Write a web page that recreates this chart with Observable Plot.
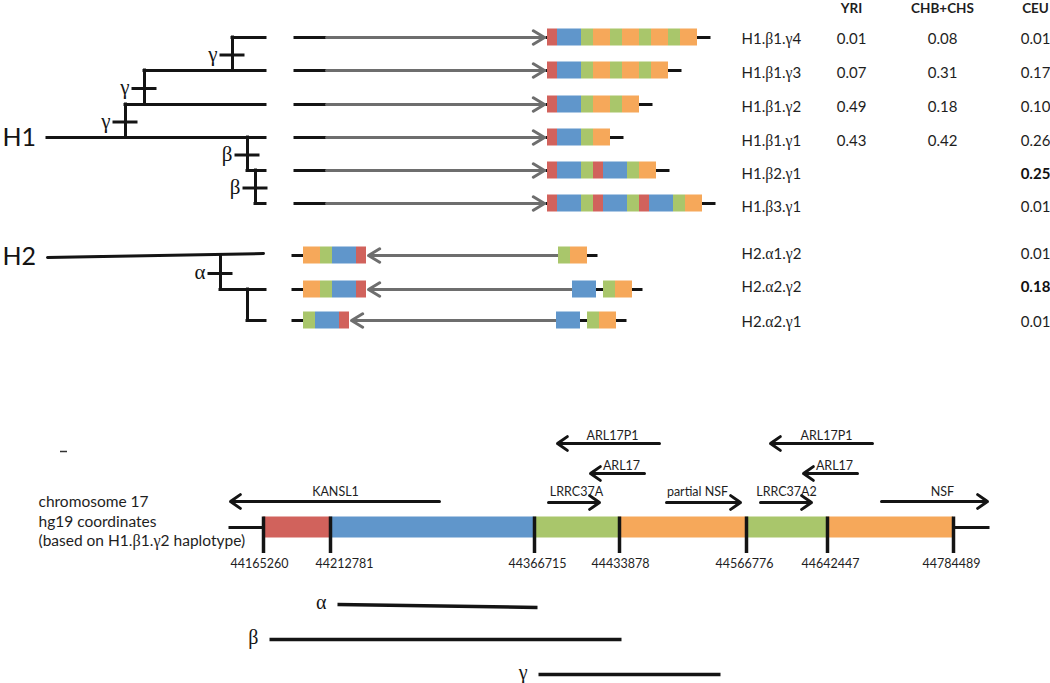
<!DOCTYPE html>
<html><head><meta charset="utf-8">
<script src="https://cdn.jsdelivr.net/npm/d3@7"></script>
<script src="https://cdn.jsdelivr.net/npm/@observablehq/plot@0.6"></script>
<style>body{margin:0;background:#fff}#chart svg{display:block}</style>
</head><body><div id="chart"></div>
<script>
// ---------------- DATA ----------------
const haplotypes = ["H1.β1.γ4","H1.β1.γ3","H1.β1.γ2","H1.β1.γ1","H1.β2.γ1","H1.β3.γ1","H2.α1.γ2","H2.α2.γ2","H2.α2.γ1"];
const populations = ["YRI","CHB+CHS","CEU"];
const freqYRI = [0.01,0.07,0.49,0.43,null,null,null,null,null];
const freqCHB = [0.08,0.31,0.18,0.42,null,null,null,null,null];
const freqCEU = [0.01,0.17,0.10,0.26,0.25,0.01,0.01,0.18,0.01];
const ceuBold = [false,false,false,false,true,false,false,true,false];
// segment sequences (R = red, B = blue, G = green, O = orange, - = spacer)
const h1Blocks = ["RBGOGOGOGO","RBGOGOGO","RBGOGO","RBGO","RBGRBGO","RBGRBGRBGO"];
const h2LeftBlocks = ["OGBR","OGBR","GBR"];
const h2RightBlocks = ["GO","B-GO","B-GO"];
const treeLabels = ["H1","H2"];
const mutationLabels = ["γ","γ","γ","β","β","α",null];
const genomeBoundaries = [44165260,44212781,44366715,44433878,44566776,44642447,44784489];
const genomeSegments = ["R","B","G","O","G","O"];
const genes = ["KANSL1","ARL17P1","ARL17","LRRC37A","partial NSF","LRRC37A2","ARL17P1","ARL17","NSF"];
const geneStrand = [-1,-1,-1,1,1,1,-1,-1,1];
const regionNames = ["α","β","γ"];
const chromText = ["chromosome 17","hg19 coordinates","(based on H1.β1.γ2 haplotype)"];

// ---------------- LAYOUT ----------------
const segColor = {R:"#d1625c", B:"#6096cb", G:"#a9c66b", O:"#f6a85a"};
const segWidth = {R:10, B:24, G:12, O:17, "-":7};
const rowY = [37,70,104,137,170,203,255,289,320];
const tableY = [39,73,107,141,174,207,254,287,322];
const blockH = 17;
const treeRight = 265;
const treeH = [{r:0,x:232},{r:1,x:144},{r:2,x:125},{r:3,x:47},{r:4,x:247},{r:5,x:255},{r:7,x:220},{r:8,x:247}];
const treeV = [{x:232,a:0,b:1},{x:144,a:1,b:2},{x:125,a:2,b:3},{x:247,a:3,b:4},{x:255,a:4,b:5},{x:220,a:6,b:7},{x:247,a:7,b:8}];
const h1Lead = [295,326], h1BlockStart = 547, h1Tail = 12;
const h2Lead = [293,303], h2RightStart = [558,572,556], h2Tail = 9;
const tableX = {label:741, YRI:851, "CHB+CHS":942, CEU:1035};
const genomePx = [263,330,534,619,746,827,953];
const tickLabelDx = [-4,14,3,1,-2,3,-2];
const barY = 527, barH = 21;
const geneLayout = [
  {x1:439,x2:230,y:501,lx:335,ly:491},
  {x1:659,x2:557,y:443,lx:612,ly:435},
  {x1:644,x2:590,y:473,lx:621,ly:465},
  {x1:548,x2:599,y:502,lx:576,ly:491},
  {x1:666,x2:740,y:502,lx:697,ly:491},
  {x1:760,x2:811,y:502,lx:786,ly:491},
  {x1:872,x2:770,y:443,lx:826,ly:435},
  {x1:857,x2:803,y:473,lx:834,ly:465},
  {x1:881,x2:987,y:501,lx:942,ly:491}
];
const regionLayout = [{x1:337,x2:537,y1:604,y2:607},{x1:269,x2:621,y1:639,y2:639},{x1:538,x2:720,y1:674,y2:674}];

// ---------------- BUILD ----------------
const hRules = [], vRules = [], rects = [], greyArrows = [], greek = [];
treeH.forEach(d => hRules.push({x1:d.x, x2:treeRight, y:rowY[d.r]}));
treeV.forEach((d,i) => {
  vRules.push({x:d.x, y1:rowY[d.a], y2:rowY[d.b]});
  const lab = mutationLabels[i];
  if (lab) {
    const my = (rowY[d.a]+rowY[d.b])/2 + 1;
    hRules.push({x1:d.x-11, x2:d.x+11, y:my});
    greek.push({x:d.x-15, y:my-1, text:lab});
  }
});
const h2Trunk = [{x:47,y:257},{x:263,y:253}];
h1Blocks.forEach((seq,i) => {
  const y = rowY[i];
  hRules.push({x1:h1Lead[0], x2:h1Lead[1], y});
  greyArrows.push({x1:h1Lead[1], x2:h1BlockStart-3, y});
  let x = h1BlockStart;
  for (const c of seq) { if (c !== "-") rects.push({x1:x, x2:x+segWidth[c], y1:y-blockH/2, y2:y+blockH/2, fill:segColor[c]}); x += segWidth[c]; }
  hRules.push({x1:h1BlockStart, x2:x+h1Tail, y});
});
h2LeftBlocks.forEach((seq,j) => {
  const y = rowY[6+j];
  let x = h2Lead[1];
  hRules.push({x1:h2Lead[0], x2:h2Lead[1], y});
  for (const c of seq) { rects.push({x1:x, x2:x+segWidth[c], y1:y-blockH/2, y2:y+blockH/2, fill:segColor[c]}); x += segWidth[c]; }
  const leftEnd = x;
  let rx = h2RightStart[j];
  greyArrows.push({x1:rx, x2:leftEnd+2, y});
  const rs = rx;
  for (const c of h2RightBlocks[j]) { if (c !== "-") rects.push({x1:rx, x2:rx+segWidth[c], y1:y-blockH/2, y2:y+blockH/2, fill:segColor[c]}); rx += segWidth[c]; }
  hRules.push({x1:rs, x2:rx+h2Tail, y});
});
const tableRows = haplotypes.map((h,i) => ({h, y:tableY[i], yri:freqYRI[i], chb:freqCHB[i], ceu:freqCEU[i], bold:ceuBold[i]}));
const fmt = v => v == null ? "" : v.toFixed(2);
const segs = genomeSegments.map((c,i) => ({x1:genomePx[i], x2:genomePx[i+1], y1:barY-barH/2, y2:barY+barH/2, fill:segColor[c]}));
const ticks = genomeBoundaries.map((g,i) => ({x:genomePx[i], y1:barY-barH/2, y2:barY+26, label:String(g), lx:genomePx[i]+tickLabelDx[i]}));
hRules.push({x1:230, x2:genomePx[0], y:barY});
hRules.push({x1:genomePx[6], x2:988, y:barY});
const geneData = genes.map((g,i) => ({name:g, strand:geneStrand[i], ...geneLayout[i]}));
const regionData = regionNames.map((r,i) => ({name:r, ...regionLayout[i]}));

const sans = "Lato, 'Open Sans', sans-serif";
const serif = "'Liberation Serif', 'DejaVu Serif', serif";
const ink = "#141414", txt = "#1e1e1e";

const plot = Plot.plot({
  width: 1050, height: 683,
  marginTop: 0, marginRight: 0, marginBottom: 0, marginLeft: 0,
  x: {domain:[0,1050], range:[0,1050], axis:null},
  y: {domain:[0,683], range:[0,683], axis:null},
  color: {type:"identity"},
  style: {fontFamily: sans, background: "#fff"},
  marks: [
    Plot.ruleY(hRules, {x1:"x1", x2:"x2", y:"y", stroke:ink, strokeWidth:3, strokeLinecap:"square"}),
    Plot.ruleX(vRules, {x:"x", y1:"y1", y2:"y2", stroke:ink, strokeWidth:3, strokeLinecap:"square"}),
    Plot.line(h2Trunk, {x:"x", y:"y", stroke:ink, strokeWidth:3}),
    Plot.text(treeLabels, {x:2, y:(d,i) => i === 0 ? 137 : 256, text:d => d, textAnchor:"start", fontSize:25, fill:ink}),
    Plot.text(greek, {x:"x", y:"y", text:"text", textAnchor:"end", fontSize:21, fontFamily:serif, fill:ink}),
    Plot.arrow(greyArrows, {x1:"x1", x2:"x2", y1:"y", y2:"y", stroke:"#6e6e6e", strokeWidth:3, headLength:6.5, headAngle:62}),
    Plot.rect(rects, {x1:"x1", x2:"x2", y1:"y1", y2:"y2", fill:"fill"}),
    Plot.text(populations, {x:d => tableX[d], y:8, text:d => d, fontWeight:"bold", fontSize:13.5, fill:txt}),
    Plot.text(tableRows, {x:tableX.label, y:"y", text:"h", textAnchor:"start", fontSize:15, fill:txt, className:"greeky"}),
    Plot.text(tableRows, {x:tableX.YRI, y:"y", text:d => fmt(d.yri), fontSize:15, fill:txt}),
    Plot.text(tableRows, {x:tableX["CHB+CHS"], y:"y", text:d => fmt(d.chb), fontSize:15, fill:txt}),
    Plot.text(tableRows.filter(d => !d.bold), {x:tableX.CEU, y:"y", text:d => fmt(d.ceu), fontSize:15, fill:txt}),
    Plot.text(tableRows.filter(d => d.bold), {x:tableX.CEU, y:"y", text:d => fmt(d.ceu), fontSize:15, fontWeight:"bold", fill:"#111"}),
    Plot.ruleY([451], {x1:60, x2:67, stroke:"#333", strokeWidth:1.5}),
    Plot.text(chromText, {x:38, y:(d,i) => 502 + i*19.5, text:d => d, textAnchor:"start", fontSize:15.5, fill:txt, className:"greeky"}),
    Plot.rect(segs, {x1:"x1", x2:"x2", y1:"y1", y2:"y2", fill:"fill"}),
    Plot.ruleX(ticks, {x:"x", y1:"y1", y2:"y2", stroke:ink, strokeWidth:3.5}),
    Plot.text(ticks, {x:"lx", y:barY+36, text:"label", fontSize:12.5, fill:txt}),
    Plot.arrow(geneData, {x1:"x1", x2:"x2", y1:"y", y2:"y", stroke:ink, strokeWidth:3, headLength:6, headAngle:70}),
    Plot.text(geneData, {x:"lx", y:"ly", text:"name", fontSize:12.5, fill:txt}),
    Plot.link(regionData, {x1:"x1", x2:"x2", y1:"y1", y2:"y2", stroke:ink, strokeWidth:3.5}),
    Plot.text(regionData, {x:d => d.x1 - 11, y:d => d.y1 - 2, text:"name", textAnchor:"end", fontSize:20, fontFamily:serif, fill:ink})
  ]
});
// render Greek letters inside sans labels with a serif face, as in the original
plot.querySelectorAll("g.greeky text").forEach(t => {
  const s = t.textContent;
  if (!/[α-ω]/.test(s)) return;
  t.textContent = "";
  for (const part of s.split(/([α-ω])/)) {
    if (!part) continue;
    const ts = document.createElementNS("http://www.w3.org/2000/svg", "tspan");
    ts.textContent = part;
    if (/[α-ω]/.test(part)) { ts.setAttribute("font-family", serif); ts.setAttribute("font-size", "1.05em"); }
    t.appendChild(ts);
  }
});
document.getElementById("chart").appendChild(plot);
</script></body></html>
